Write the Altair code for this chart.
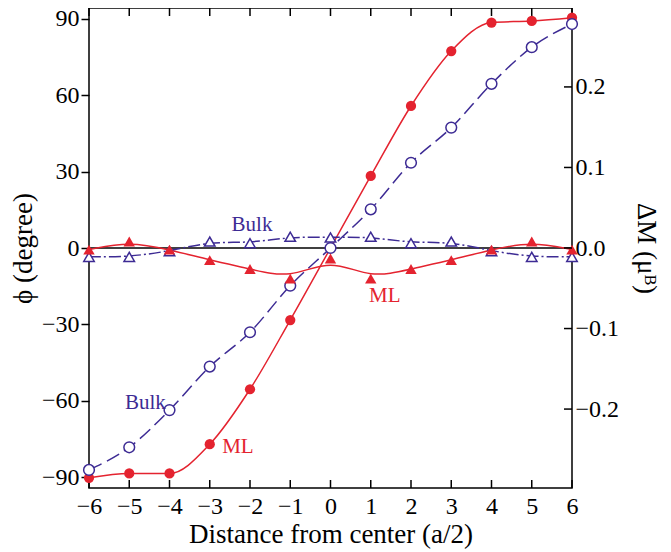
import altair as alt
import pandas as pd

# ---- data ----
x_pos = [-6, -5, -4, -3, -2, -1, 0, 1, 2, 3, 4, 5, 6]
phi_ml = [-90.3, -88.6, -88.6, -77.1, -55.5, -28.3, 0.0, 28.3, 55.8, 77.4, 88.6, 89.2, 90.5]
phi_bulk = [-87.2, -78.3, -63.7, -46.6, -33.1, -14.8, 0.0, 15.2, 33.5, 47.3, 64.5, 78.9, 88.0]
dm_ml = [-0.002, 0.008, -0.002, -0.015, -0.026, -0.038, -0.013, -0.038, -0.026, -0.015, -0.002, 0.008, -0.002]
dm_bulk = [-0.011, -0.011, -0.004, 0.008, 0.006, 0.014, 0.013, 0.014, 0.006, 0.008, -0.004, -0.011, -0.011]

x_ticks = [-6, -5, -4, -3, -2, -1, 0, 1, 2, 3, 4, 5, 6]
phi_ticks = [-90, -60, -30, 0, 30, 60, 90]
dm_ticks = [-0.2, -0.1, 0.0, 0.1, 0.2]

label_text = ["Bulk", "ML", "Bulk", "ML"]
label_series = ["Bulk", "ML", "Bulk", "ML"]
label_x = [-1.95, 1.35, -4.6, -2.3]
label_phi = [9.0, -18.9, -60.9, -78.2]

RED = "#e4232f"
BLUE = "#3d2b94"
FONT = "Liberation Serif"
W, H = 483, 480

df_ml = pd.DataFrame({"x": x_pos, "phi": phi_ml})
df_bulk = pd.DataFrame({"x": x_pos, "phi": phi_bulk})
df_dml = pd.DataFrame({"x": x_pos, "dm": dm_ml})
df_dbulk = pd.DataFrame({"x": x_pos, "dm": dm_bulk})
df_xt = pd.DataFrame({"x": x_ticks})
df_dt = pd.DataFrame({"dm": dm_ticks})
df_zero = pd.DataFrame({"phi": [0.0]})
df_lab = pd.DataFrame({"x": label_x, "phi": label_phi, "text": label_text, "s": label_series})

common = dict(labelFont=FONT, labelFontSize=24, labelColor="black",
              titleFont=FONT, titleFontSize=27, titleFontWeight="normal", titleColor="black",
              domain=False, grid=False, labelFlush=False, labelOverlap=False)

x_axis = alt.Axis(title="Distance from center (a/2)", values=x_ticks, format="d",
                  ticks=False, labelPadding=6, titlePadding=3, **common)
yl_axis = alt.Axis(title="\u03d5 (degree)", orient="left", values=phi_ticks, format="d",
                   tickSize=8, tickWidth=1.5, tickColor="black",
                   labelPadding=2, titlePadding=4, **common)
yr_axis = alt.Axis(title="\u0394M (\u03bc\u1d2e)", orient="right", values=dm_ticks, format=".1f",
                   ticks=False, labelPadding=3, titlePadding=13, **common)

xs = alt.Scale(domain=[-6, 6], nice=False, zero=False)
yls = alt.Scale(domain=[-94.3, 94.3], nice=False, zero=False)
yrs = alt.Scale(domain=[-0.298, 0.298], nice=False, zero=False)


def X(f):
    return alt.X(f, type="quantitative", scale=xs, axis=x_axis)


def YL(f):
    return alt.Y(f, type="quantitative", scale=yls, axis=yl_axis)


def YR(f):
    return alt.Y(f, type="quantitative", scale=yrs, axis=yr_axis)


zero = alt.Chart(df_zero).mark_rule(color="black", strokeWidth=1.5).encode(
    y=YL("phi"), x=alt.value(0), x2=alt.value(W))
xt_bot = alt.Chart(df_xt).mark_rule(color="black", strokeWidth=1.5).encode(
    x=X("x"), y=alt.value(H), y2=alt.value(H - 8))
xt_top = alt.Chart(df_xt).mark_rule(color="black", strokeWidth=1.5).encode(
    x=X("x"), y=alt.value(0), y2=alt.value(8))

ml_line = alt.Chart(df_ml).mark_line(color=RED, strokeWidth=1.5, interpolate="monotone").encode(
    x=X("x"), y=YL("phi"))
bulk_line = alt.Chart(df_bulk).mark_line(color=BLUE, strokeWidth=1.5, interpolate="monotone",
                                         strokeDash=[14, 6]).encode(x=X("x"), y=YL("phi"))
ml_pts = alt.Chart(df_ml).mark_point(shape="circle", filled=True, color=RED, size=105, opacity=1).encode(
    x=X("x"), y=YL("phi"))
bulk_pts = alt.Chart(df_bulk).mark_point(shape="circle", filled=True, fill="white", stroke=BLUE,
                                         strokeWidth=1.5, size=115, opacity=1).encode(
    x=X("x"), y=YL("phi"))
labels = alt.Chart(df_lab).mark_text(font=FONT, fontSize=21, align="center", baseline="middle").encode(
    x=X("x"), y=YL("phi"), text="text:N",
    color=alt.Color("s:N", scale=alt.Scale(domain=["ML", "Bulk"], range=[RED, BLUE]), legend=None))

left = alt.layer(zero, xt_bot, xt_top, ml_line, bulk_line, ml_pts, bulk_pts, labels)

dml_line = alt.Chart(df_dml).mark_line(color=RED, strokeWidth=1.5, interpolate="basis").encode(
    x=X("x"), y=YR("dm"))
dbulk_line = alt.Chart(df_dbulk).mark_line(color=BLUE, strokeWidth=1.5, interpolate="basis",
                                           strokeDash=[12, 3, 2, 3]).encode(x=X("x"), y=YR("dm"))
dml_pts = alt.Chart(df_dml).mark_point(shape="triangle-up", filled=True, color=RED, size=130, opacity=1).encode(
    x=X("x"), y=YR("dm"))
dbulk_pts = alt.Chart(df_dbulk).mark_point(shape="triangle-up", filled=True, fill="white", stroke=BLUE,
                                           strokeWidth=1.5, size=110, opacity=1).encode(
    x=X("x"), y=YR("dm"))
yr_ticks = alt.Chart(df_dt).mark_rule(color="black", strokeWidth=1.5).encode(
    y=YR("dm"), x=alt.value(W), x2=alt.value(W - 8))

right = alt.layer(dml_line, dbulk_line, dbulk_pts, dml_pts, yr_ticks)

chart = alt.layer(left, right).resolve_scale(y="independent").properties(
    width=W, height=H,
    autosize=alt.AutoSizeParams(type="none"),
    padding={"left": 81, "top": 0, "right": 91, "bottom": 64},
).configure_view(stroke="black", strokeWidth=1.5).configure_axis(
    labelFont=FONT, labelFontSize=24, labelColor="black",
    titleFont=FONT, titleFontSize=27, titleFontWeight="normal", titleColor="black",
)

chart.save("out.html", embed_options={"renderer": "svg", "actions": False})
